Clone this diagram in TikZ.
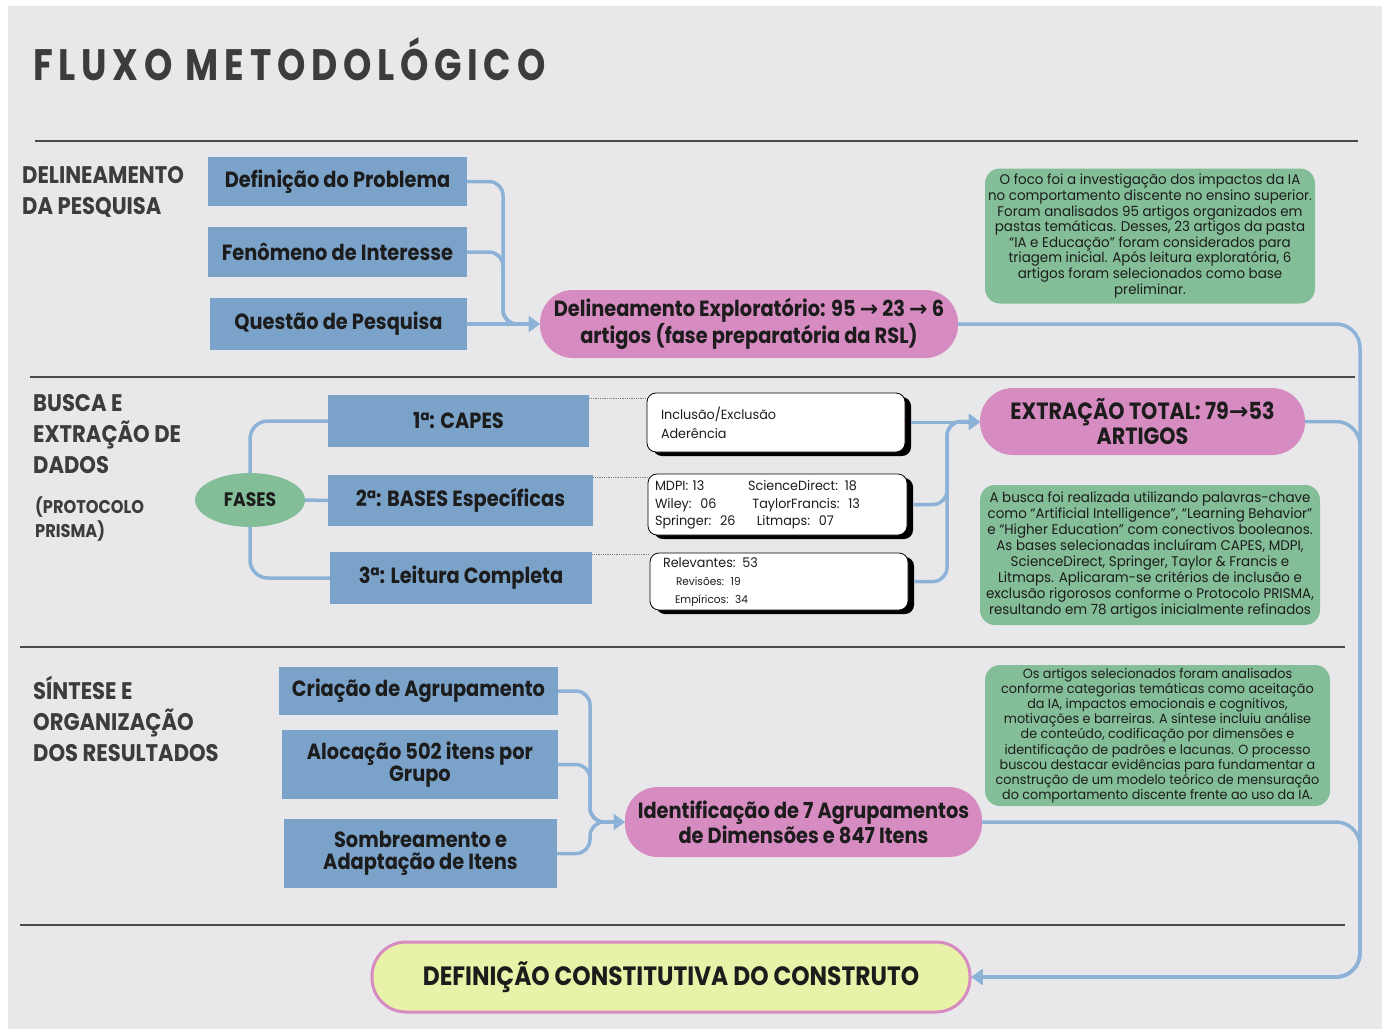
\documentclass[tikz,border=0pt]{standalone}
\usepackage{fontspec}
\setmainfont{Poppins}[FakeStretch=0.96]
\newfontfamily\hd{Poppins}[FakeStretch=0.88]
\newfontfamily\ttl{Poppins}[FakeStretch=0.82,LetterSpace=13]
\newfontfamily\arr{DejaVu Sans}
\usetikzlibrary{arrows.meta,shapes.geometric,shadows}
\definecolor{paper}{HTML}{E8E8EA}
\definecolor{boxblue}{HTML}{7BA3CA}
\definecolor{pinkc}{HTML}{D68BC1}
\definecolor{greenc}{HTML}{84BE98}
\definecolor{lineblue}{HTML}{8DB2D8}
\definecolor{rulegray}{HTML}{4A4A4A}
\definecolor{labelgray}{HTML}{3C3C3C}
\definecolor{txtdark}{HTML}{1C1C1C}
\definecolor{finfill}{HTML}{E8F2A8}
\begin{document}
\begin{tikzpicture}[x=1pt,y=-1pt,
  bluebox/.style={fill=boxblue, text=txtdark, font=\hd\bfseries\fontsize{22}{22}\selectfont, align=center, inner sep=0pt},
  pinknode/.style={fill=pinkc, text=txtdark, rounded corners=33pt, font=\hd\bfseries\fontsize{22}{22}\selectfont, align=center, inner sep=0pt},
  note/.style={fill=greenc, text=txtdark, rounded corners=15pt, font=\fontsize{14}{15.6}\selectfont, align=center, inner sep=0pt},
  wbox/.style={fill=white, draw=black, line width=0.8pt, rounded corners=9pt, drop shadow={shadow xshift=6pt,shadow yshift=-4pt,fill=black,opacity=1}, align=left, text=txtdark, inner sep=0pt, font=\fontsize{13.3}{19}\selectfont},
  conn/.style={draw=lineblue, line width=3.5pt, rounded corners=14pt, -{Triangle[length=11pt,width=15pt]}},
  link/.style={draw=lineblue, line width=3.5pt, rounded corners=18pt},
  sect/.style={font=\hd\bfseries\fontsize{24}{31}\selectfont, text=labelgray, align=left, inner sep=0pt, anchor=north west},
  rulel/.style={draw=rulegray, line width=1.8pt},
  dots/.style={draw=gray, densely dotted, line width=0.8pt}]
\useasboundingbox (0,0) rectangle (1382,1029);
\fill[white] (0,0) rectangle (1382,1029);
\fill[paper] (8,6) rectangle (1382,1029);

% title
\node[anchor=base west, inner sep=0pt, text=labelgray, font=\ttl\bfseries\fontsize{44}{50}\selectfont] (title) at (33,80) {FLUXO METODOLÓGICO};

% rules
\draw[rulel] (35,141) -- (1358,141);
\draw[rulel] (30,377) -- (1355,377);
\draw[rulel] (20,647) -- (1345,647);
\draw[rulel] (20,925) -- (1345,925);

% section labels
\node[sect] (l1) at (22,166) {DELINEAMENTO\\DA PESQUISA};
\node[sect] (l2) at (33,394) {BUSCA E\\EXTRAÇÃO DE\\DADOS};
\node[sect, font=\hd\bfseries\fontsize{18.4}{24}\selectfont] (l2b) at (35,496) {(PROTOCOLO\\PRISMA)};
\node[sect] (l3) at (33,676) {SÍNTESE E\\ORGANIZAÇÃO\\DOS RESULTADOS};

% coordinates for trunks
\coordinate (j1) at (503,0);
\coordinate (j2) at (947,0);
\coordinate (j3) at (1360,0);
\coordinate (j4) at (590,0);

% section 1
\node[bluebox, minimum width=259pt, minimum height=49pt] (p1) at (337.5,181.5) {Definição do Problema};
\node[bluebox, minimum width=259pt, minimum height=50pt] (p2) at (337.5,252) {Fenômeno de Interesse};
\node[bluebox, minimum width=257pt, minimum height=52pt] (p3) at (338.5,324) {Questão de Pesquisa};
\node[pinknode, minimum width=418pt, minimum height=68pt] (ex1) at (749,324) {Delineamento Exploratório: 95 {\arr\bfseries →} 23 {\arr\bfseries →} 6\\artigos (fase preparatória da RSL)};
\node[note, minimum width=330pt, minimum height=135pt] (n1) at (1150,236) {O foco foi a investigação dos impactos da IA\\no comportamento discente no ensino superior.\\Foram analisados 95 artigos organizados em\\pastas temáticas. Desses, 23 artigos da pasta\\“IA e Educação” foram considerados para\\triagem inicial. Após leitura exploratória, 6\\artigos foram selecionados como base\\preliminar.};

% section 2
\node[ellipse, fill=greenc, minimum width=110pt, minimum height=54pt, inner sep=0pt, text=txtdark, font=\hd\bfseries\fontsize{19.5}{20}\selectfont] (fases) at (250,500) {FASES};
\node[bluebox, minimum width=261pt, minimum height=52pt] (c1) at (458.5,421) {1ª: CAPES};
\node[bluebox, minimum width=265pt, minimum height=51pt] (c2) at (460.5,500.5) {2ª: BASES Específicas};
\node[bluebox, minimum width=262pt, minimum height=52pt] (c3) at (461,578) {3ª: Leitura Completa};

\node[wbox, minimum width=258pt, minimum height=59pt, text width=230pt] (w1) at (776,422.5) {Inclusão/Exclusão\\Aderência};
\node[wbox, minimum width=259pt, minimum height=61pt, text width=245pt, font=\fontsize{13.3}{17.5}\selectfont] (w2) at (777.5,504.5) {\begin{tabular}{@{}p{93pt}@{}l@{}}MDPI: 13 & ScienceDirect: 18\\ Wiley:\ \ 06 & \ TaylorFrancis:\ \ 13\\ Springer:\ \ 26 & \ \ Litmaps:\ \ 07\end{tabular}};
\node[wbox, minimum width=258pt, minimum height=57pt, text width=232pt] (w3) at (779,581.5) {\fontsize{13.3}{19}\selectfont Relevantes: 53\\[-1pt]\fontsize{11}{19}\selectfont\hspace*{13pt}Revisões: 19\\[-1pt]\fontsize{11}{19}\selectfont\hspace*{12pt}Empíricos: 34};

\node[pinknode, minimum width=325pt, minimum height=67pt, font=\hd\bfseries\fontsize{23.5}{22}\selectfont] (ex2) at (1142.5,421.5) {EXTRAÇÃO TOTAL: 79{\arr\bfseries →}53\\ARTIGOS};
\node[note, minimum width=340pt, minimum height=140pt, font=\fontsize{14}{15.9}\selectfont] (n2) at (1150,555) {A busca foi realizada utilizando palavras-chave\\como “Artificial Intelligence”, “Learning Behavior”\\e “Higher Education” com conectivos booleanos.\\As bases selecionadas incluíram CAPES, MDPI,\\ScienceDirect, Springer, Taylor \& Francis e\\Litmaps. Aplicaram-se critérios de inclusão e\\exclusão rigorosos conforme o Protocolo PRISMA,\\resultando em 78 artigos inicialmente refinados};

% section 3
\node[bluebox, minimum width=279pt, minimum height=48pt] (s1) at (418.5,691) {Criação de Agrupamento};
\node[bluebox, minimum width=276pt, minimum height=69pt] (s2) at (420,764.5) {Alocação 502 itens por\\Grupo};
\node[bluebox, minimum width=273pt, minimum height=69pt] (s3) at (420.5,853.5) {Sombreamento e\\Adaptação de Itens};
\node[pinknode, minimum width=357pt, minimum height=70pt] (ex3) at (803.5,822) {Identificação de 7 Agrupamentos\\de Dimensões e 847 Itens};
\node[note, minimum width=345pt, minimum height=141pt, font=\fontsize{13.3}{15.2}\selectfont] (n3) at (1157.5,735.5) {Os artigos selecionados foram analisados\\conforme categorias temáticas como aceitação\\da IA, impactos emocionais e cognitivos,\\motivações e barreiras. A síntese incluiu análise\\de conteúdo, codificação por dimensões e\\identificação de padrões e lacunas. O processo\\buscou destacar evidências para fundamentar a\\construção de um modelo teórico de mensuração\\do comportamento discente frente ao uso da IA.};

% final
\node[fill=finfill, draw=pinkc, line width=3pt, rounded corners=34pt, minimum width=598pt, minimum height=70pt, inner sep=0pt, text=txtdark, font=\hd\bfseries\fontsize{26.5}{28}\selectfont] (fin) at (671,977) {DEFINIÇÃO CONSTITUTIVA DO CONSTRUTO};

% connectors section 1
\draw[conn] (p1.east) -- (p1.east -| j1) -- (ex1.west -| j1) -- (ex1.west);
\draw[conn] (p2.east) -- (p2.east -| j1) -- (ex1.west -| j1) -- (ex1.west);
\draw[conn] (p3.east) -- (ex1.west);

% connectors section 2
\draw[link] (fases.north) -- (fases.north |- c1.west) -- (c1.west);
\draw[link] (fases.east) -- (c2.west);
\draw[link] (fases.south) -- (fases.south |- c3.west) -- (c3.west);
\draw[dots] ([yshift=-4pt]c1.north east) -- ([yshift=-4pt]c1.north east -| w1.west);
\draw[dots] ([yshift=-3pt]c2.north east) -- ([yshift=-3pt]c2.north east -| w2.west);
\draw[dots] ([yshift=-3pt]c3.north east) -- ([yshift=-3pt]c3.north east -| w3.west);
\draw[conn] ([xshift=6pt]w1.east) -- (w1.east -| ex2.west);
\draw[conn] ([xshift=6pt]w2.east) -- (w2.east -| j2) -- (ex2.west -| j2) -- (ex2.west);
\draw[conn] ([xshift=6pt]w3.east) -- (w3.east -| j2) -- (ex2.west -| j2) -- (ex2.west);

% connectors section 3
\draw[conn] (s1.east) -- (s1.east -| j4) -- (ex3.west -| j4) -- (ex3.west);
\draw[conn] (s2.east) -- (s2.east -| j4) -- (ex3.west -| j4) -- (ex3.west);
\draw[conn] (s3.east) -- (s3.east -| j4) -- (ex3.west -| j4) -- (ex3.west);

% to final
\draw[conn, rounded corners=24pt] (ex1.east) -- (ex1.east -| j3) -- (fin.east -| j3) -- (fin.east);
\draw[conn, rounded corners=24pt] (ex2.east) -- (ex2.east -| j3) -- (fin.east -| j3) -- (fin.east);
\draw[conn, rounded corners=24pt] (ex3.east) -- (ex3.east -| j3) -- (fin.east -| j3) -- (fin.east);
\end{tikzpicture}
\end{document}
